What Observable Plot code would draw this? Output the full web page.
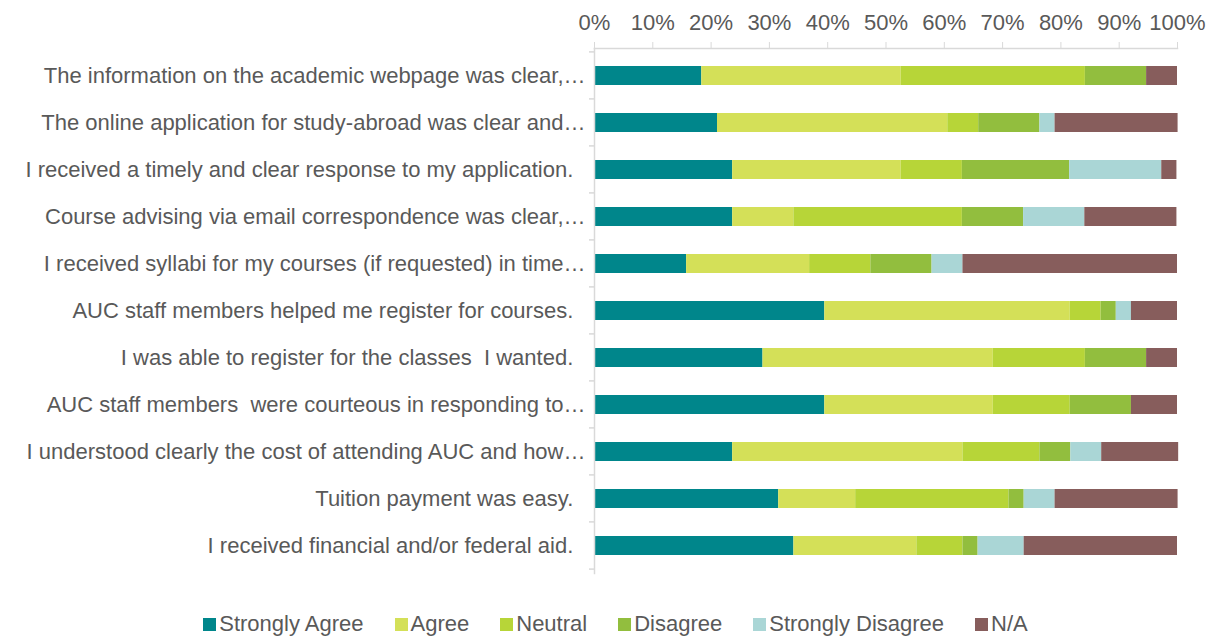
<!DOCTYPE html>
<html>
<head>
<meta charset="utf-8">
<script src="https://cdn.jsdelivr.net/npm/d3@7"></script>
<script src="https://cdn.jsdelivr.net/npm/@observablehq/plot@0.6"></script>
<style>
  html, body { margin: 0; padding: 0; background: #fff; }
  body { width: 1215px; height: 641px; overflow: hidden; font-family: "Liberation Sans", sans-serif; }
  #chart svg { display: block; }
  #chart svg text { white-space: pre; }
  .legend { display: flex; justify-content: center; align-items: center; margin-top: 17px; padding-left: 16px; font-size: 22px; color: #595959; height: 24px; }
  .legend .item { display: flex; align-items: center; margin-right: 31px; }
  .legend .item:last-child { margin-right: 0; }
  .legend .sw { width: 13px; height: 13px; margin-right: 3px; }
</style>
</head>
<body>
<div id="chart"></div>
<div class="legend" id="legend"></div>
<script>
const questions = [
  "The information on the academic webpage was clear,…",
  "The online application for study-abroad was clear and…",
  "I received a timely and clear response to my application.  ",
  "Course advising via email correspondence was clear,…",
  "I received syllabi for my courses (if requested) in time…",
  "AUC staff members helped me register for courses.  ",
  "I was able to register for the classes  I wanted.  ",
  "AUC staff members  were courteous in responding to…",
  "I understood clearly the cost of attending AUC and how…",
  "Tuition payment was easy.  ",
  "I received financial and/or federal aid.  "
];
const seriesNames = ["Strongly Agree", "Agree", "Neutral", "Disagree", "Strongly Disagree", "N/A"];
const seriesColors = ["#00868b", "#d4e058", "#b7d538", "#92be3e", "#aad6d6", "#875d5c"];

const stronglyAgree    = [18.4, 21.1, 23.7, 23.7, 15.8, 39.5, 28.9, 39.5, 23.7, 31.6, 34.2];
const agree            = [34.2, 39.5, 28.9, 10.5, 21.1, 42.1, 39.5, 28.9, 39.5, 13.2, 21.1];
const neutral          = [31.6,  5.3, 10.5, 28.9, 10.5,  5.3, 15.8, 13.2, 13.2, 26.3,  7.9];
const disagree         = [10.5, 10.5, 18.4, 10.5, 10.5,  2.6, 10.5, 10.5,  5.3,  2.6,  2.6];
const stronglyDisagree = [ 0.0,  2.6, 15.8, 10.5,  5.3,  2.6,  0.0,  0.0,  5.3,  5.3,  7.9];
const notApplicable    = [ 5.3, 21.1,  2.6, 15.8, 36.8,  7.9,  5.3,  7.9, 13.2, 21.1, 26.3];

const xTicks = [0, 10, 20, 30, 40, 50, 60, 70, 80, 90, 100];

const seriesValues = [stronglyAgree, agree, neutral, disagree, stronglyDisagree, notApplicable];
const rows = [];
seriesNames.forEach((s, si) => {
  questions.forEach((q, qi) => rows.push({question: q, series: s, value: seriesValues[si][qi]}));
});

const font = '"Liberation Sans", sans-serif';

const chart = Plot.plot({
  width: 1215,
  height: 595,
  marginTop: 48,
  marginLeft: 594,
  marginRight: 38,
  marginBottom: 22,
  style: {fontFamily: font, fontSize: "22px", color: "#595959", background: "#fff"},
  x: {domain: [0, 100], label: null},
  y: {domain: questions, paddingInner: 0.6, paddingOuter: 0.3, label: null},
  color: {domain: seriesNames, range: seriesColors},
  marks: [
    Plot.barX(rows, Plot.stackX({x: "value", y: "question", fill: "series", z: "series", order: seriesNames, inset: 0})),
    Plot.frame({anchor: "top", stroke: "#d9d9d9", strokeWidth: 1.5, strokeOpacity: 1}),
    Plot.frame({anchor: "left", stroke: "#d9d9d9", strokeWidth: 1.5, strokeOpacity: 1}),
    Plot.axisX({anchor: "top", ticks: xTicks, tickFormat: d => d + "%", tickSize: 7, tickPadding: 12, stroke: "#d9d9d9", strokeOpacity: 1, fill: "#595959", fontSize: 22, label: null}),
    Plot.axisY({anchor: "left", tickSize: 0, tickPadding: 9, fill: "#595959", fontSize: 22, label: null})
  ]
});

document.getElementById("chart").appendChild(chart);

// band boundary ticks on the left axis, from the library's y scale
const ys = chart.scale("y");
const svg = d3.select(chart);
const xs = chart.scale("x");
const x0 = xs.apply(0);
const bounds = questions.map(q => ys.apply(q) - ys.paddingOuter * ys.step);
bounds.push(ys.apply(questions[questions.length - 1]) + ys.bandwidth + ys.paddingOuter * ys.step);
svg.append("g").selectAll("line").data(bounds).join("line")
  .attr("x1", x0 - 5).attr("x2", x0).attr("y1", d => d).attr("y2", d => d)
  .attr("stroke", "#d9d9d9").attr("stroke-width", 1.5);

// legend
const legend = d3.select("#legend");
seriesNames.forEach((s, i) => {
  const it = legend.append("div").attr("class", "item");
  it.append("div").attr("class", "sw").style("background", seriesColors[i]);
  it.append("span").text(s);
});
</script>
</body>
</html>
